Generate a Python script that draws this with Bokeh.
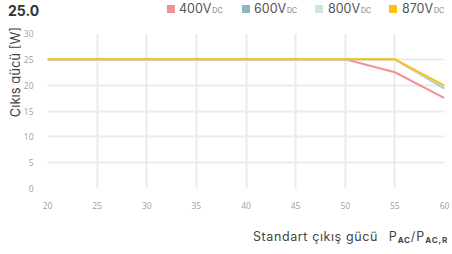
from bokeh.plotting import figure
from bokeh.models import Range1d, FixedTicker, Div
from bokeh.layouts import column, row
from bokeh.embed import file_html
from bokeh.resources import INLINE

# ---- data ----
x_vals = [20, 25, 30, 35, 40, 45, 50, 55, 60]
v400 = [25, 25, 25, 25, 25, 25, 25, 22.5, 17.5]
v600 = [25, 25, 25, 25, 25, 25, 25, 25, 19.4]
v800 = [25, 25, 25, 25, 25, 25, 25, 25, 19.6]
v870 = [25, 25, 25, 25, 25, 25, 25, 25, 19.9]
series_names = ["400V", "600V", "800V", "870V"]
series_colors = ["#f09196", "#8fb5bf", "#cbe6dd", "#fcbf14"]
x_ticks = [20, 25, 30, 35, 40, 45, 50, 55, 60]
y_ticks = [0, 5, 10, 15, 20, 25, 30]
title_text = "25.0"
y_title = "Çıkış gücü [W]"
x_title = "Standart çıkış gücü"

W, H = 452, 254
TOP_H, BOT_H, YL_W = 27, 42, 20
MID_H = H - TOP_H - BOT_H
FIG_W = W - YL_W
FW, FH = 397, 155
LEFT = 46 - YL_W
TOPB = 33 - TOP_H

p = figure(width=FIG_W, height=MID_H, output_backend="svg", toolbar_location=None,
           x_range=Range1d(20, 60), y_range=Range1d(0, 30),
           frame_width=FW, frame_height=FH,
           min_border_left=LEFT, min_border_right=FIG_W - LEFT - FW,
           min_border_top=TOPB, min_border_bottom=MID_H - TOPB - FH, margin=0)
p.outline_line_color = None

for ys, c in zip([v400, v600, v800, v870], series_colors):
    p.line(x_vals, ys, line_color=c, line_width=2)

for ax in (p.xaxis[0], p.yaxis[0]):
    ax.axis_line_color = None
    ax.major_tick_line_color = None
    ax.minor_tick_line_color = None
    ax.major_label_text_color = "#a0a0a0"
    ax.major_label_text_font = "Open Sans"
    ax.major_label_text_font_size = "8.5px"
p.xaxis.ticker = FixedTicker(ticks=x_ticks)
p.yaxis.ticker = FixedTicker(ticks=y_ticks)
p.xaxis.major_label_standoff = 7
p.yaxis.major_label_standoff = 8
p.grid.grid_line_color = "#ebebeb"
p.grid.grid_line_width = 2
p.xgrid.ticker = FixedTicker(ticks=x_ticks)
p.ygrid.ticker = FixedTicker(ticks=y_ticks)

# ---- top: title + legend ----
sq_x = [167, 242, 315, 389]
tx_x = [179, 254, 328, 402]
parts = [f'<div style="position:absolute;left:8px;top:3px;font:bold 14px/16px Inter;color:#333;white-space:nowrap">{title_text}</div>']
for sx, tx, name, c in zip(sq_x, tx_x, series_names, series_colors):
    parts.append(f'<div style="position:absolute;left:{sx}px;top:5px;width:8px;height:8px;background:{c}"></div>')
    parts.append(f'<div style="position:absolute;left:{tx}px;top:2px;font:12.5px/13px Inter;color:#555;white-space:nowrap">'
                 f'{name}<span style="font-size:7px;margin-left:1px;color:#777">DC</span></div>')
top_div = Div(text=f'<div style="position:relative;width:{W}px;height:{TOP_H}px">' + "".join(parts) + '</div>',
              width=W, height=TOP_H, margin=0)

# ---- left: y title ----
yl_div = Div(text=f'<div style="position:relative;width:{YL_W}px;height:{MID_H}px">'
                  f'<div style="position:absolute;left:7px;top:0px;writing-mode:vertical-rl;transform:rotate(180deg);'
                  f'font:13px/16px Inter;color:#444;white-space:nowrap">{y_title}</div></div>',
             width=YL_W, height=MID_H, margin=0)

# ---- bottom: x title ----
sub = 'font-size:8px;font-weight:bold;letter-spacing:0.8px;position:relative;top:2px'
bot_div = Div(text=f'<div style="position:relative;width:{W}px;height:{BOT_H}px">'
                   f'<div style="position:absolute;left:253px;top:19px;font:12.5px/12px Inter;letter-spacing:0.6px;color:#444;white-space:nowrap">{x_title}</div>'
                   f'<div style="position:absolute;right:4px;top:19px;font:12.5px/12px Inter;letter-spacing:1px;color:#444;white-space:nowrap">'
                   f'P<span style="{sub}">AC</span>/P<span style="{sub}">AC,R</span></div>'
                   f'</div>',
              width=W, height=BOT_H, margin=0)

layout = column(top_div, row(yl_div, p, spacing=0, margin=0), bot_div, spacing=0, margin=0)

open("out.html", "w").write(file_html(layout, INLINE))
